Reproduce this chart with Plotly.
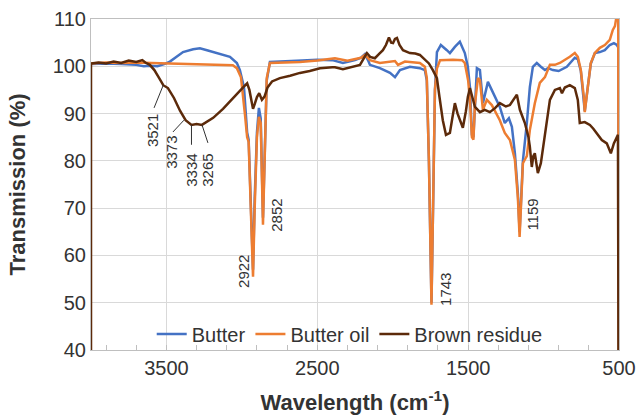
import plotly.graph_objects as go

# ---------------- data ----------------
brown_wn = [4000, 4000, 3950, 3900, 3850, 3800, 3750, 3700, 3660, 3640, 3610, 3580, 3550, 3521, 3490, 3450,
            3410, 3373, 3334, 3300, 3265, 3230, 3190, 3125, 3060, 2990, 2965, 2950, 2935, 2926, 2915, 2900,
            2885, 2867, 2850, 2830, 2800, 2748, 2680, 2615, 2550, 2482, 2400, 2383, 2330, 2300, 2250, 2217,
            2190, 2171, 2150, 2118, 2090, 2065, 2045, 2025, 2010, 1998, 1985, 1972, 1955, 1932, 1886, 1850,
            1820, 1787, 1760, 1734, 1707, 1690, 1668, 1647, 1621, 1605, 1588, 1570, 1555, 1535, 1515, 1502,
            1488, 1470, 1455, 1422, 1390, 1356, 1320, 1290, 1250, 1223, 1190, 1177, 1157, 1124, 1100, 1091,
            1078, 1068, 1058, 1038, 1018, 991, 958, 925, 892, 878, 859, 826, 793, 773, 760, 727, 693, 670,
            647, 614, 581, 554, 534, 507, 500]
brown_t = [0, 100.6, 100.8, 100.6, 101.0, 100.7, 101.2, 100.9, 101.3, 100.8, 100.3, 99.2, 97.6, 96.0, 95.4, 93.3,
           90.6, 88.6, 87.6, 87.8, 87.6, 88.3, 89.1, 91.0, 93.3, 95.6, 96.4, 95.0, 92.5, 91.0, 92.0, 93.5,
           94.3, 92.9, 93.6, 95.5, 96.8, 97.5, 98.0, 98.6, 99.0, 99.6, 99.8, 99.8, 99.4, 99.6, 100.0, 100.3,
           101.8, 102.8, 102.0, 101.7, 102.6, 103.4, 104.5, 106.1, 105.0, 104.9, 105.8, 106.0, 104.5, 103.4, 102.8, 102.7,
           102.4, 101.3, 100.6, 99.2, 97.5, 93.5, 88.6, 85.5, 85.9, 89.0, 92.2, 90.0, 88.6, 87.0, 90.5, 93.5,
           95.4, 93.0, 91.4, 90.3, 90.8, 90.3, 91.2, 92.2, 91.5, 91.8, 93.2, 94.0, 90.8, 88.0, 85.0, 83.0,
           78.7, 81.0, 81.6, 77.4, 79.5, 85.9, 92.9, 95.0, 95.4, 94.3, 95.5, 96.0, 95.4, 92.9, 88.0, 88.2, 87.6, 86.8,
           85.9, 84.4, 83.7, 81.6, 83.7, 85.5, 0]

oil_wn = [4000, 3900, 3800, 3700, 3600, 3500, 3400, 3300, 3200, 3100, 3060, 3033, 3006, 2980, 2965, 2955,
          2940, 2926, 2915, 2900, 2887, 2875, 2860, 2845, 2835, 2814, 2700, 2615, 2500, 2400, 2383, 2300,
          2250, 2210, 2184, 2151, 2085, 2020, 1985, 1965, 1919, 1820, 1787, 1774, 1760, 1743, 1730, 1720,
          1707, 1686, 1600, 1540, 1522, 1500, 1488, 1475, 1465, 1455, 1435, 1422, 1402, 1376, 1343, 1316,
          1290, 1257, 1223, 1190, 1170, 1159, 1150, 1137, 1120, 1111, 1091, 1058, 1025, 991, 958, 925,
          892, 859, 826, 793, 773, 753, 733, 727, 707, 687, 660, 627, 594, 561, 541, 527, 514, 505, 500]
oil_t = [100.6, 100.8, 100.7, 100.8, 100.7, 100.6, 100.5, 100.4, 100.3, 100.3, 100.2, 99.6, 97.7, 90.0, 85.0, 84.0,
         70.0, 55.5, 70.0, 85.0, 89.3, 88.0, 66.5, 85.0, 97.5, 100.7, 100.8, 100.9, 101.2, 101.5, 101.7, 101.2,
         101.6, 101.8, 102.4, 101.3, 100.7, 101.0, 101.1, 100.3, 101.0, 100.7, 99.9, 97.5, 80.0, 49.6, 75.0, 95.0,
         99.5, 101.3, 101.4, 101.3, 100.7, 97.0, 92.9, 85.0, 84.5, 92.0, 97.5, 97.1, 90.8, 92.9, 91.8, 90.0,
         88.6, 85.9, 84.4, 80.2, 72.0, 63.9, 70.0, 79.5, 80.5, 81.0, 86.5, 92.2, 96.5, 97.7, 100.3, 100.3,
         100.7, 101.3, 102.0, 102.8, 102.0, 99.2, 93.5, 90.3, 95.6, 100.7, 102.8, 103.9, 104.5, 105.6, 107.7, 108.5, 111, 111, 0]

butter_wn = [4000, 3900, 3800, 3700, 3650, 3610, 3560, 3510, 3477, 3430, 3390, 3323, 3278, 3231, 3191, 3145,
             3079, 3033, 3013, 2986, 2965, 2955, 2940, 2926, 2915, 2900, 2887, 2875, 2860, 2845, 2835, 2814,
             2700, 2600, 2500, 2400, 2330, 2250, 2210, 2184, 2160, 2151, 2085, 2018, 1985, 1965, 1952, 1886,
             1820, 1787, 1774, 1760, 1743, 1730, 1720, 1707, 1681, 1641, 1621, 1588, 1555, 1522, 1502, 1488,
             1475, 1465, 1455, 1442, 1422, 1402, 1369, 1343, 1290, 1257, 1230, 1210, 1190, 1170, 1159, 1150,
             1137, 1111, 1091, 1071, 1045, 1018, 991, 971, 938, 900, 870, 846, 793, 773, 753, 733, 727, 707,
             687, 660, 627, 594, 561, 534, 514, 505, 500]
butter_t = [100.5, 100.6, 100.5, 100.3, 100.0, 100.1, 100.0, 100.5, 101.0, 102.0, 103.0, 103.6, 103.8, 103.4, 103.0, 102.7,
            102.0, 100.7, 99.2, 95.6, 86.0, 84.5, 72.0, 57.0, 72.0, 86.0, 91.2, 89.0, 68.0, 86.0, 97.0, 100.9,
            101.0, 101.2, 101.4, 101.3, 100.7, 101.3, 101.8, 102.6, 101.0, 100.3, 99.6, 98.6, 97.7, 98.5, 99.2, 99.9,
            99.6, 99.2, 97.0, 80.0, 50.0, 75.0, 95.0, 103.0, 104.5, 103.4, 102.8, 104.1, 105.2, 102.8, 99.9, 95.6,
            85.5, 85.0, 93.0, 99.6, 99.2, 92.2, 96.7, 95.0, 91.4, 88.0, 89.0, 87.2, 81.6, 73.0, 65.0, 71.0,
            80.0, 88.0, 95.6, 99.9, 100.7, 99.9, 99.2, 99.6, 99.2, 99.0, 99.5, 99.9, 101.8, 101.5, 99.0, 93.5, 90.5, 95.6,
            100.5, 102.8, 103.0, 103.4, 104.5, 104.9, 104.5, 104.0, 0]

peak_labels = ["3521", "3373", "3334", "3265", "2922", "2852", "1743", "1159"]
label_wn = [3596, 3463, 3331, 3225, 2993, 2767, 1654, 1071]
label_t = [86.5, 81.7, 78.1, 78.1, 56.7, 68.4, 52.9, 68.6]
# leader lines (from curve point to label) for the O-H band
leader_from = [(3521, 96.0), (3384, 88.6), (3334, 87.6), (3264, 87.6)]
leader_to = [(3582, 91.2), (3457, 86.1), (3334, 83.4), (3225, 83.8)]

x_ticks = [3500, 2500, 1500, 500]
y_ticks = [40, 50, 60, 70, 80, 90, 100, 110]

FONT = "Liberation Sans, Arial, sans-serif"
C_BUTTER = "#4472C4"
C_OIL = "#ED7D31"
C_BROWN = "#5C2A0A"

fig = go.Figure()
fig.add_trace(go.Scatter(x=butter_wn, y=butter_t, mode="lines", name="Butter",
                         line=dict(color=C_BUTTER, width=2.5)))
fig.add_trace(go.Scatter(x=oil_wn, y=oil_t, mode="lines", name="Butter oil",
                         line=dict(color=C_OIL, width=2.5)))
fig.add_trace(go.Scatter(x=brown_wn, y=brown_t, mode="lines", name="Brown residue",
                         line=dict(color=C_BROWN, width=2.5)))

for txt, xw, yt in zip(peak_labels, label_wn, label_t):
    fig.add_annotation(x=xw, y=yt, xref="x", yref="y", text=txt, showarrow=False,
                       textangle=-90, font=dict(family=FONT, size=15, color="#333333"))

for (x0, y0), (x1, y1) in zip(leader_from, leader_to):
    fig.add_shape(type="line", x0=x0, y0=y0, x1=x1, y1=y1, xref="x", yref="y",
                  line=dict(color="#333333", width=1))

fig.update_layout(
    width=638, height=416,
    margin=dict(l=91, r=19, t=19, b=66),
    paper_bgcolor="white", plot_bgcolor="white",
    font=dict(family=FONT, color="#404040"),
    showlegend=True,
    legend=dict(orientation="h", x=0.49, xanchor="center", y=0.048, yanchor="middle",
                bgcolor="rgba(0,0,0,0)", font=dict(family=FONT, size=20, color="#333333"),
                itemwidth=30, tracegroupgap=0, traceorder="normal"),
    xaxis=dict(range=[4000, 500], tickvals=x_ticks, showgrid=True, gridcolor="#D9D9D9", gridwidth=1,
               showline=True, linecolor="#BFBFBF", linewidth=1, mirror=True, zeroline=False,
               automargin=False,
               ticks="", tickfont=dict(size=20, color="#333333"),
               minor=dict(dtick=200, tick0=500, ticks="inside", ticklen=5, tickcolor="#BFBFBF",
                          showgrid=False),
               title=dict(text="<b>Wavelength (cm<sup>-1</sup>)</b>", font=dict(size=22, color="#333333"),
                          standoff=16)),
    yaxis=dict(range=[40, 110], tickvals=y_ticks, showgrid=True, gridcolor="#D9D9D9", gridwidth=1,
               showline=True, linecolor="#BFBFBF", linewidth=1, mirror=True, zeroline=False,
               automargin=False,
               ticks="", tickfont=dict(size=20, color="#333333"),
               title=dict(text="<b>Transmission (%)</b>", font=dict(size=22, color="#333333"),
                          standoff=20)),
)

fig.write_html("out.html")
